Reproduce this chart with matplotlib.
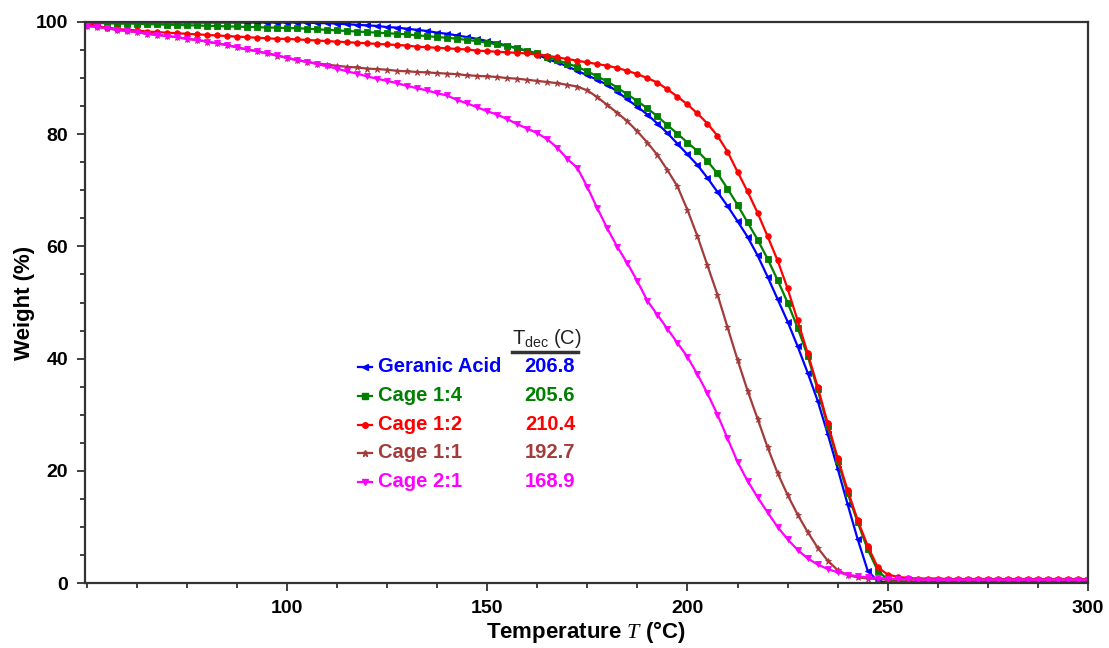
import numpy as np
import matplotlib
matplotlib.use("Agg")
import matplotlib.pyplot as plt
from matplotlib.lines import Line2D
from matplotlib.ticker import MultipleLocator

plt.rcParams["font.family"] = ["Liberation Sans", "DejaVu Sans"]
plt.rcParams["mathtext.fontset"] = "custom"
plt.rcParams["mathtext.rm"] = "Liberation Sans"
plt.rcParams["mathtext.it"] = "Liberation Serif:italic"

# temperature grid (°C), one reading every 2.5 °C
temp = np.arange(50, 300.1, 2.5)

geranic = [
    99.9, 99.9, 99.9, 99.9, 99.9, 99.9, 99.9, 99.9, 99.9, 99.9, 99.9,
    99.9, 99.9, 99.9, 99.9, 99.9, 99.9, 99.9, 99.9, 99.9, 99.9,
    99.9, 99.9, 99.8, 99.8, 99.7, 99.6, 99.5, 99.4, 99.3, 99.1,
    99.0, 98.8, 98.6, 98.4, 98.1, 97.9, 97.6, 97.3, 97.0, 96.6,
    96.2, 95.8, 95.3, 94.8, 94.2, 93.4, 92.8, 92.1, 91.3, 90.5,
    89.7, 88.8, 87.6, 86.2, 84.9, 83.5, 81.9, 80.2, 78.3, 76.4,
    74.5, 72.2, 69.7, 67.2, 64.5, 61.7, 58.4, 54.6, 50.6, 46.6,
    42.2, 37.5, 32.5, 26.6, 20.4, 14.0, 7.8, 2.2, 0.3, 0.1,
    0.1, 0.1, 0.1, 0.1, 0.1, 0.1, 0.1, 0.1, 0.1, 0.1,
    0.1, 0.1, 0.1, 0.1, 0.1, 0.1, 0.1, 0.1, 0.1, 0.1,
]
cage_1_4 = [
    99.8, 99.8, 99.8, 99.7, 99.7, 99.7, 99.6, 99.6, 99.5, 99.5, 99.4,
    99.4, 99.3, 99.3, 99.2, 99.2, 99.1, 99.1, 99.0, 99.0, 98.9,
    98.9, 98.8, 98.7, 98.6, 98.5, 98.4, 98.3, 98.2, 98.1, 98.0,
    97.9, 97.8, 97.6, 97.5, 97.3, 97.2, 97.0, 96.8, 96.6, 96.3,
    96.0, 95.7, 95.3, 94.9, 94.4, 93.8, 93.2, 92.6, 92.0, 91.2,
    90.3, 89.4, 88.3, 87.1, 85.9, 84.6, 83.2, 81.6, 80.1, 78.5,
    77.0, 75.2, 73.0, 70.3, 67.4, 64.3, 61.2, 57.8, 54.0, 50.0,
    45.5, 40.5, 34.5, 28.0, 21.8, 16.0, 10.8, 6.0, 2.2, 0.6,
    0.3, 0.2, 0.2, 0.2, 0.2, 0.2, 0.2, 0.2, 0.2, 0.2,
    0.2, 0.2, 0.2, 0.2, 0.2, 0.2, 0.2, 0.2, 0.2, 0.2,
]
cage_1_2 = [
    99.7, 99.3, 99.0, 98.8, 98.6, 98.5, 98.3, 98.2, 98.1, 98.0, 97.9,
    97.8, 97.7, 97.6, 97.5, 97.4, 97.3, 97.2, 97.1, 97.0, 97.0,
    96.9, 96.8, 96.7, 96.6, 96.5, 96.4, 96.3, 96.2, 96.1, 96.0,
    95.9, 95.8, 95.6, 95.5, 95.4, 95.3, 95.2, 95.1, 94.9, 94.8,
    94.7, 94.6, 94.5, 94.4, 94.2, 94.0, 93.7, 93.4, 93.1, 92.8,
    92.5, 92.2, 91.8, 91.3, 90.7, 90.0, 89.2, 88.0, 86.7, 85.3,
    83.7, 81.9, 79.7, 76.9, 73.3, 69.8, 66.0, 61.8, 57.5, 52.5,
    46.8, 41.0, 35.0, 28.5, 22.3, 16.5, 11.2, 6.6, 2.8, 1.5,
    1.1, 0.9, 0.8, 0.8, 0.8, 0.7, 0.7, 0.7, 0.7, 0.7,
    0.7, 0.7, 0.7, 0.7, 0.7, 0.7, 0.7, 0.7, 0.7, 0.7,
]
cage_1_1 = [
    99.3, 99.1, 98.9, 98.6, 98.4, 98.2, 97.9, 97.7, 97.5, 97.3, 97.0,
    96.8, 96.5, 96.2, 95.9, 95.5, 95.1, 94.8, 94.4, 94.0, 93.6,
    93.2, 92.9, 92.6, 92.4, 92.2, 92.0, 91.9, 91.7, 91.6, 91.5,
    91.3, 91.2, 91.1, 91.0, 90.9, 90.8, 90.7, 90.5, 90.4, 90.3,
    90.2, 90.0, 89.9, 89.7, 89.5, 89.3, 89.1, 88.8, 88.5, 87.8,
    86.6, 85.2, 83.8, 82.3, 80.5, 78.5, 76.3, 73.6, 70.7, 66.5,
    61.8, 56.6, 51.4, 45.6, 39.8, 34.3, 29.3, 24.2, 19.6, 15.7,
    12.2, 9.1, 6.3, 4.0, 2.3, 1.4, 1.0, 0.8, 0.7, 0.6,
    0.6, 0.6, 0.6, 0.6, 0.6, 0.6, 0.6, 0.6, 0.6, 0.6,
    0.6, 0.6, 0.6, 0.6, 0.6, 0.6, 0.6, 0.6, 0.6, 0.6,
]
cage_2_1 = [
    99.3, 99.1, 98.9, 98.6, 98.4, 98.2, 97.9, 97.7, 97.5, 97.3, 97.0,
    96.8, 96.5, 96.2, 95.9, 95.5, 95.1, 94.8, 94.4, 94.1, 93.6,
    93.2, 92.9, 92.5, 92.1, 91.7, 91.2, 90.8, 90.3, 89.9, 89.5,
    89.1, 88.6, 88.2, 87.8, 87.3, 86.9, 86.1, 85.5, 84.8, 84.1,
    83.5, 82.7, 81.8, 81.0, 80.2, 79.1, 77.6, 75.6, 74.0, 70.6,
    66.8, 63.2, 59.9, 57.0, 53.8, 50.3, 47.8, 45.3, 42.8, 40.3,
    37.2, 33.8, 30.0, 25.8, 21.6, 18.2, 15.3, 12.6, 10.0, 7.8,
    5.9, 4.4, 3.3, 2.5, 1.9, 1.5, 1.2, 1.0, 0.9, 0.8,
    0.7, 0.7, 0.6, 0.6, 0.6, 0.6, 0.6, 0.6, 0.6, 0.6,
    0.6, 0.6, 0.6, 0.6, 0.6, 0.6, 0.6, 0.6, 0.6, 0.6,
]

names = ["Geranic Acid", "Cage 1:4", "Cage 1:2", "Cage 1:1", "Cage 2:1"]
t_dec = ["206.8", "205.6", "210.4", "192.7", "168.9"]
series = [geranic, cage_1_4, cage_1_2, cage_1_1, cage_2_1]
colors = ["#0000FF", "#008000", "#FF0000", "#A33B3B", "#FF00FF"]
markers = ["<", "s", "o", "*", "v"]
msizes = [4, 4, 4, 5, 4]

W, H = 1109, 648
fig = plt.figure(figsize=(W / 100, H / 100), dpi=100)
ax = fig.add_axes([85 / W, 1 - 583 / H, (1088 - 85) / W, (583 - 22) / H])

for y, c, m, ms in zip(series, colors, markers, msizes):
    ax.plot(temp, y, color=c, lw=1.6, marker=m, ms=ms, mec=c, mfc=c, mew=0.6)

ax.set_xlim(49.6, 300)
ax.set_ylim(0, 100)
ax.set_xticks([100, 150, 200, 250, 300])
ax.set_yticks([0, 20, 40, 60, 80, 100])
ax.xaxis.set_minor_locator(MultipleLocator(12.5))
ax.yaxis.set_minor_locator(MultipleLocator(5))
ax.tick_params(which="both", direction="out", top=False, right=False,
               color="#333333", width=1.3)
ax.tick_params(which="major", length=6, labelsize=14, pad=6)
ax.tick_params(which="minor", length=3.5)
for lab in ax.get_xticklabels() + ax.get_yticklabels():
    lab.set_fontweight("bold")
for sp in ax.spines.values():
    sp.set_linewidth(1.6)
    sp.set_color("#333333")

ax.set_xlabel("Temperature $T$ (°C)", fontsize=16, fontweight="bold", labelpad=2)
ax.set_ylabel("Weight (%)", fontsize=16, fontweight="bold", labelpad=1)

# legend with decomposition temperatures, placed by hand
rows = [367, 395.5, 424.5, 453, 481.5]
for name, td, c, m, ms, yp in zip(names, t_dec, colors, markers, msizes, rows):
    yf = 1 - yp / H
    fig.add_artist(Line2D([358 / W, 372 / W], [yf, yf], transform=fig.transFigure,
                          color=c, lw=1.6))
    fig.add_artist(Line2D([365 / W], [yf], transform=fig.transFigure, color=c,
                          marker=m, ms=ms, mec=c, mfc=c, lw=0))
    fig.text(378 / W, yf, name, color=c, fontsize=14.5, fontweight="bold",
             ha="left", va="center")
    fig.text(575 / W, yf, td, color=c, fontsize=14.5, fontweight="bold",
             ha="right", va="center")

fig.text(512 / W, 1 - 339 / H, r"T$_{\mathrm{dec}}$ (C)", fontsize=14.5,
         color="#222222", ha="left", va="center")
fig.add_artist(Line2D([512 / W, 578 / W], [1 - 352 / H] * 2,
                      transform=fig.transFigure, color="#333333", lw=2.5))

fig.savefig("out.png", dpi=100)
